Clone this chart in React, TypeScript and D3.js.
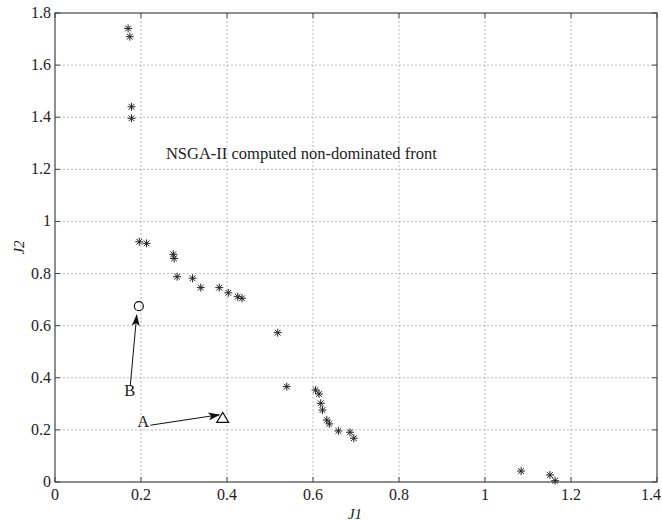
import React from "react";
import * as d3 from "d3";

const frontJ1 = [0.170, 0.174, 0.178, 0.178, 0.196, 0.213, 0.275, 0.277, 0.284, 0.320, 0.339, 0.382, 0.403, 0.425, 0.435, 0.518, 0.539, 0.606, 0.614, 0.618, 0.622, 0.632, 0.638, 0.659, 0.686, 0.695, 1.084, 1.151, 1.163];
const frontJ2 = [1.741, 1.709, 1.440, 1.396, 0.922, 0.916, 0.874, 0.858, 0.788, 0.782, 0.746, 0.746, 0.726, 0.711, 0.705, 0.573, 0.366, 0.353, 0.338, 0.302, 0.276, 0.238, 0.223, 0.196, 0.191, 0.168, 0.042, 0.027, 0.005];
const xTicks = [0, 0.2, 0.4, 0.6, 0.8, 1, 1.2, 1.4];
const yTicks = [0, 0.2, 0.4, 0.6, 0.8, 1, 1.2, 1.4, 1.6, 1.8];
const pointB = { j1: 0.195, j2: 0.675 };
const pointA = { j1: 0.390, j2: 0.244 };
const labelB = { j1: 0.174, j2: 0.33 };
const labelA = { j1: 0.205, j2: 0.21 };
const arrowBStart = { j1: 0.175, j2: 0.368 };
const arrowAStart = { j1: 0.222, j2: 0.218 };
const arrowAEnd = { j1: 0.382, j2: 0.258 };
const arrowBEnd = { j1: 0.190, j2: 0.641 };
const annotation = "NSGA-II computed non-dominated front";

export default function App() {
  const W = 662, H = 522;
  const left = 55, right = 657, top = 13, bottom = 482;
  const x = d3.scaleLinear().domain([0, 1.4]).range([left, right]);
  const y = d3.scaleLinear().domain([0, 1.8]).range([bottom, top]);
  const frame = "#444";
  const font = "'Liberation Serif', 'Times New Roman', serif";
  const s = 4;
  const star = (cx: number, cy: number, i: number) => (
    <g key={i} stroke="#222" strokeWidth={1}>
      <line x1={cx - s} y1={cy} x2={cx + s} y2={cy} />
      <line x1={cx} y1={cy - s} x2={cx} y2={cy + s} />
      <line x1={cx - s * 0.72} y1={cy - s * 0.72} x2={cx + s * 0.72} y2={cy + s * 0.72} />
      <line x1={cx - s * 0.72} y1={cy + s * 0.72} x2={cx + s * 0.72} y2={cy - s * 0.72} />
    </g>
  );
  const tx = x(pointA.j1), ty = y(pointA.j2);
  return (
    <svg width={W} height={H} style={{ position: "absolute", left: 0, top: 0, background: "#fff" }}>
      <defs>
        <marker id="ah" viewBox="0 0 12 8" refX="11" refY="4" markerWidth="13" markerHeight="8" markerUnits="userSpaceOnUse" orient="auto">
          <path d="M0,0 L12,4 L0,8 L3,4 Z" fill="#111" />
        </marker>
      </defs>
      <rect x={0} y={0} width={W} height={H} fill="#fff" />
      {xTicks.slice(1, -1).map((t) => (
        <line key={"gx" + t} x1={x(t)} x2={x(t)} y1={top} y2={bottom} stroke="#bbb" strokeWidth={1} strokeDasharray="2,2" />
      ))}
      {yTicks.slice(1, -1).map((t) => (
        <line key={"gy" + t} x1={left} x2={right} y1={y(t)} y2={y(t)} stroke="#bbb" strokeWidth={1} strokeDasharray="2,2" />
      ))}
      <rect x={left} y={top} width={right - left} height={bottom - top} fill="none" stroke={frame} strokeWidth={1.2} />
      {xTicks.map((t, i) => (
        <g key={"tx" + t}>
          <line x1={x(t)} x2={x(t)} y1={bottom} y2={bottom - 5} stroke={frame} />
          <line x1={x(t)} x2={x(t)} y1={top} y2={top + 5} stroke={frame} />
          <text x={i === xTicks.length - 1 ? W - 1 : x(t)} y={bottom + 18} textAnchor={i === xTicks.length - 1 ? "end" : "middle"} fontFamily={font} fontSize={16} fill="#222">{String(t)}</text>
        </g>
      ))}
      {yTicks.map((t) => (
        <g key={"ty" + t}>
          <line x1={left} x2={left + 5} y1={y(t)} y2={y(t)} stroke={frame} />
          <line x1={right} x2={right - 5} y1={y(t)} y2={y(t)} stroke={frame} />
          <text x={left - 4} y={y(t) + 5} textAnchor="end" fontFamily={font} fontSize={16} fill="#222">{String(t)}</text>
        </g>
      ))}
      <text x={(left + right) / 2 - 1} y={519} textAnchor="middle" fontFamily={font} fontStyle="italic" fontSize={15} fill="#222">J1</text>
      <text transform={`translate(24,${(top + bottom) / 2}) rotate(-90)`} textAnchor="middle" fontFamily={font} fontStyle="italic" fontSize={15} fill="#222">J2</text>
      <text x={x(0.258)} y={y(1.24)} fontFamily={font} fontSize={16.5} fill="#222">{annotation}</text>
      {frontJ1.map((v, i) => star(x(v), y(frontJ2[i]), i))}
      <circle cx={x(pointB.j1)} cy={y(pointB.j2)} r={4.5} fill="none" stroke="#111" strokeWidth={1.2} />
      <path d={`M${tx - 6},${ty + 4} L${tx + 6},${ty + 4} L${tx},${ty - 6} Z`} fill="none" stroke="#111" strokeWidth={1.2} />
      <line x1={x(arrowBStart.j1)} y1={y(arrowBStart.j2)} x2={x(arrowBEnd.j1)} y2={y(arrowBEnd.j2)} stroke="#111" strokeWidth={1} markerEnd="url(#ah)" />
      <line x1={x(arrowAStart.j1)} y1={y(arrowAStart.j2)} x2={x(arrowAEnd.j1)} y2={y(arrowAEnd.j2)} stroke="#111" strokeWidth={1} markerEnd="url(#ah)" />
      <text x={x(labelB.j1)} y={y(labelB.j2)} textAnchor="middle" fontFamily={font} fontSize={16.5} fill="#222">B</text>
      <text x={x(labelA.j1)} y={y(labelA.j2)} textAnchor="middle" fontFamily={font} fontSize={16.5} fill="#222">A</text>
    </svg>
  );
}
